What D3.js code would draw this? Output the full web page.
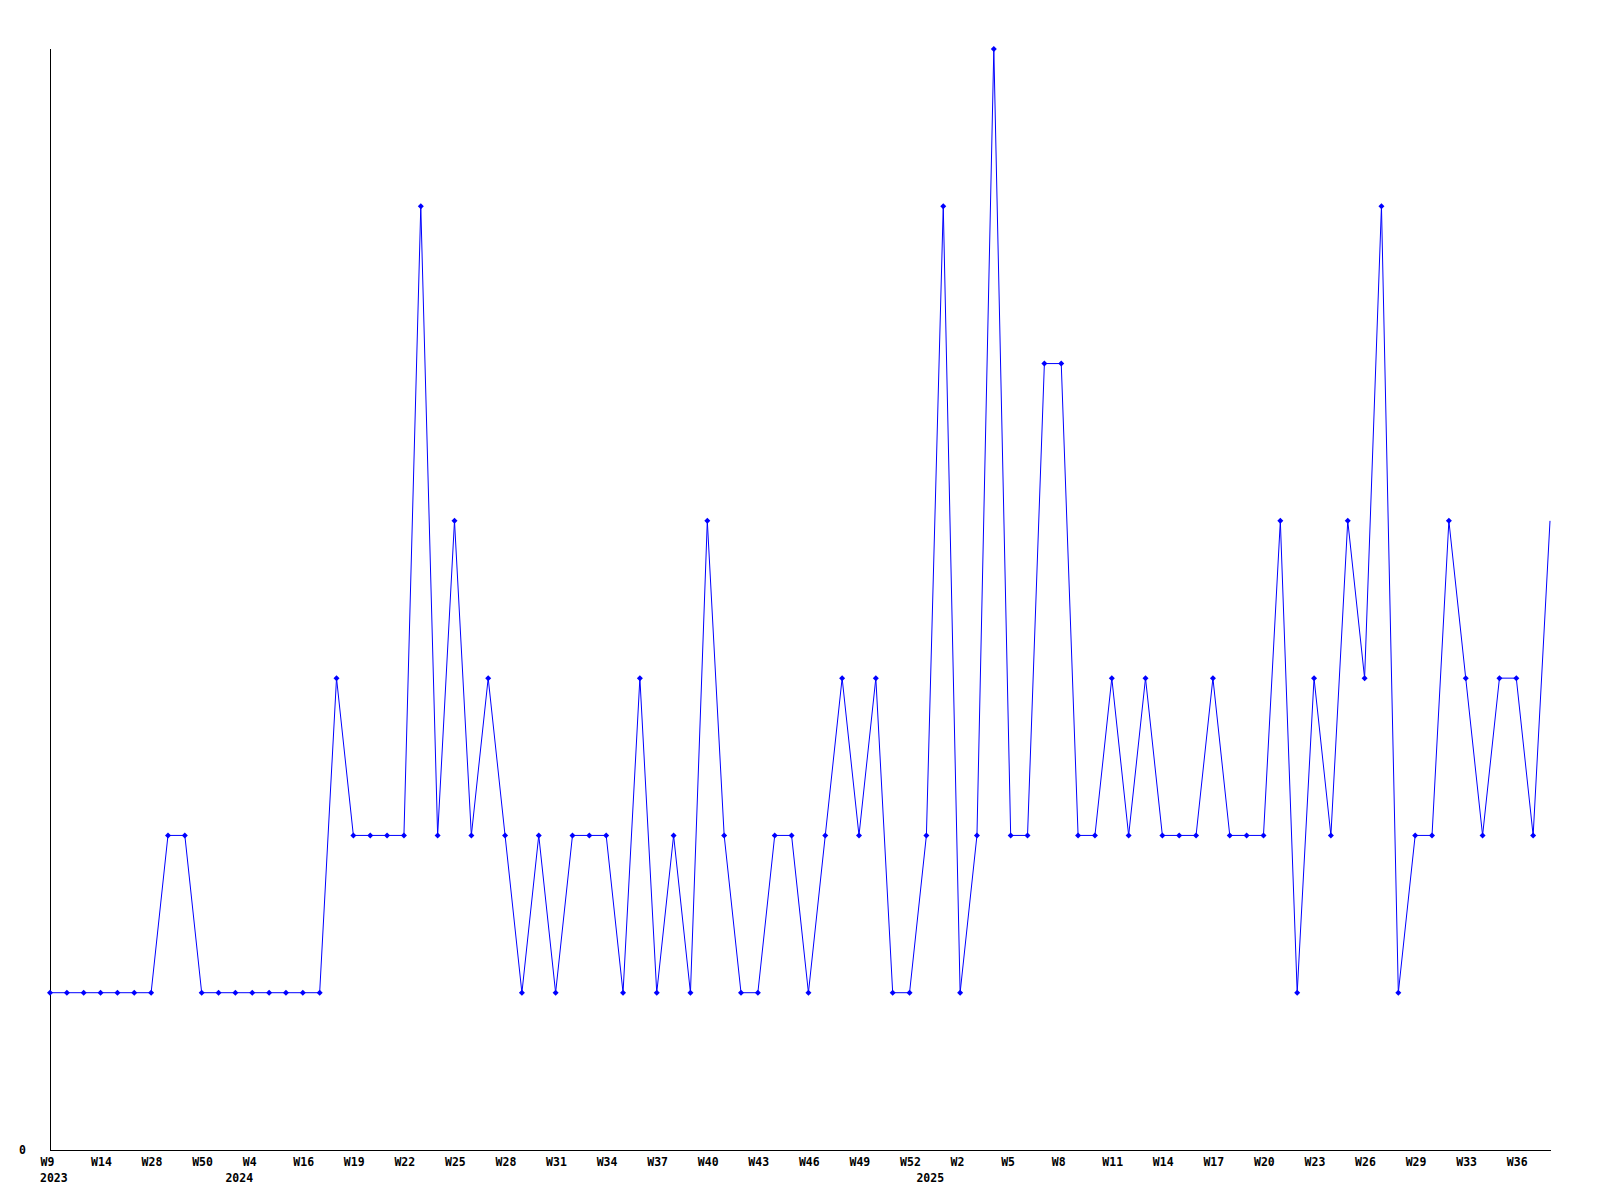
<html>
<head>
<style type="text/css">
	body { margin: 0; background: white; }
	.chart text { font-family: "DejaVu Sans Mono", monospace; font-weight: bold; font-size: 11.5px; fill: black; }
	.chart .domain { stroke: black; stroke-width: 1; }
</style>
</head>
<body>
<svg class="chart" width="1600" height="1200"></svg>
<script src="https://d3js.org/d3.v7.min.js"></script>
<script>
// one entry per week that has data
var weeks = ["W9","W10","W12","W14","W18","W23","W28","W35","W42","W50","W52",
	"W1","W4","W8","W12","W16","W17","W18","W19","W20","W21","W22","W23","W24","W25","W26","W27","W28","W29","W30",
	"W31","W32","W33","W34","W35","W36","W37","W38","W39","W40","W41","W42","W43","W44","W45","W46","W47","W48","W49","W50","W51","W52",
	"W0","W1","W2","W3","W4","W5","W6","W7","W8","W9","W10","W11","W12","W13","W14","W15","W16","W17","W18","W19","W20",
	"W21","W22","W23","W24","W25","W26","W27","W28","W29","W31","W32","W33","W34","W35","W36","W37","W38"];

var counts = [1,1,1,1,1,1,1,2,2,1,
	1,1,1,1,1,1,1,3,2,2,
	2,2,6,2,4,2,3,2,1,2,
	1,2,2,2,1,3,1,2,1,4,
	2,1,1,2,2,1,2,3,2,3,
	1,1,2,6,1,2,7,2,2,5,
	5,2,2,3,2,3,2,2,2,3,
	2,2,2,4,1,3,2,4,3,6,
	1,2,2,4,3,2,3,3,2,4];

// first entry of each year
var yearStart = [0, 11, 52];
var yearLabels = ["2023", "2024", "2025"];

var svg = d3.select("svg");

var x = d3.scaleLinear()
	.domain([0, counts.length - 1])
	.range([50, 1550]);

var y = d3.scaleLinear()
	.domain([0, 7])
	.range([1150, 49]);

// x axis, a label every third week
var xAxis = svg.append("g")
	.attr("transform", "translate(0,1150)")
	.call(d3.axisBottom(x)
		.tickValues(d3.range(0, counts.length - 1, 3))
		.tickSize(0)
		.tickSizeOuter(0)
		.tickFormat(function(i) { return weeks[i]; }));
xAxis.selectAll("text")
	.attr("text-anchor", "start")
	.attr("dx", -10)
	.attr("y", 16)
	.attr("dy", null);
xAxis.select(".domain").attr("d", "M50,0.5H1551");

// year labels under the first week of each year
svg.append("g")
	.selectAll("text")
	.data(yearStart)
	.enter()
	.append("text")
	.attr("x", function(d) { return x(d) - 10; })
	.attr("y", 1182)
	.text(function(d, i) { return yearLabels[i]; });

// y axis, only the zero label
var yAxis = svg.append("g")
	.attr("transform", "translate(50,0)")
	.call(d3.axisLeft(y)
		.tickValues([0])
		.tickFormat(d3.format("d"))
		.tickSize(0)
		.tickSizeOuter(0)
		.tickPadding(24));
yAxis.select(".domain").attr("d", "M0.5,49V1150");

// the series
var line = d3.line()
	.x(function(d, i) { return x(i); })
	.y(function(d) { return y(d); });

svg.append("path")
	.datum(counts)
	.attr("fill", "none")
	.attr("stroke", "#0000ff")
	.attr("stroke-width", 1)
	.attr("d", line);

// markers, the last (current) week has none
svg.append("g")
	.selectAll("path")
	.data(counts.slice(0, -1))
	.enter()
	.append("path")
	.attr("transform", function(d, i) { return "translate(" + x(i) + "," + y(d) + ")"; })
	.attr("d", "M0,-3L3,0L0,3L-3,0Z")
	.attr("fill", "#0000ff");
</script>
</body>
</html>
